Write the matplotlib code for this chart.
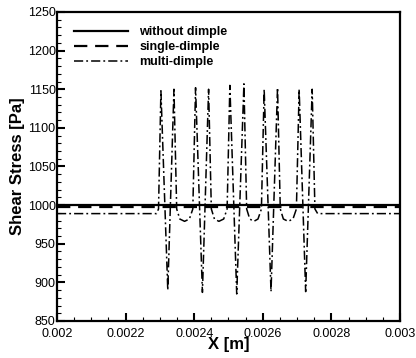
import numpy as np
import matplotlib
matplotlib.use('Agg')
import matplotlib.pyplot as plt
from matplotlib.ticker import MultipleLocator

plt.rcParams['font.family'] = ['Liberation Sans', 'DejaVu Sans']

# flat reference cases
x_flat = [0.002, 0.003]
without_dimple = [1000, 1000]
single_dimple = [998, 998]

# multi-dimple wall shear stress
x_multi = [0.00200, 0.002290, 0.002296, 0.002303, 0.002323, 0.002341, 0.002349,
           0.002358, 0.002372, 0.002386, 0.002396, 0.002404, 0.002424, 0.002442,
           0.002450, 0.002459, 0.002472, 0.002486, 0.002496, 0.002504, 0.002524,
           0.002545, 0.002553, 0.002562, 0.002574, 0.002586, 0.002596, 0.002604,
           0.002624, 0.002643, 0.002651, 0.002660, 0.002674, 0.002688, 0.002698,
           0.002706, 0.002725, 0.002744, 0.002752, 0.002760, 0.00300]
multi_dimple = [989, 989, 995, 1148, 890, 1150, 995,
                982, 979, 982, 995, 1152, 887, 1150,
                995, 982, 979, 982, 995, 1155, 885,
                1157, 995, 982, 979, 982, 995, 1150,
                888, 1152, 995, 982, 979, 982, 995,
                1150, 888, 1150, 995, 989, 989]

x_ticks = [0.002, 0.0022, 0.0024, 0.0026, 0.0028, 0.003]
x_ticklabels = ['0.002', '0.0022', '0.0024', '0.0026', '0.0028', '0.003']


def main():
    fig = plt.figure(figsize=(4.16, 3.58), dpi=100)
    ax = fig.add_axes([0.137, 0.1034, 0.8245, 0.8631])

    ax.plot(x_flat, without_dimple, color='black', lw=1.6, ls='-', label='without dimple')
    ax.plot(x_flat, single_dimple, color='black', lw=1.6, ls=(0, (6, 3.5)), label='single-dimple')
    ax.plot(x_multi, multi_dimple, color='black', lw=1.1, ls=(0, (6, 2, 1.2, 2)), label='multi-dimple')

    ax.set_xlim(0.002, 0.003)
    ax.set_ylim(850, 1250)
    ax.set_xticks(x_ticks)
    ax.set_xticklabels(x_ticklabels)
    ax.xaxis.set_minor_locator(MultipleLocator(0.00005))
    ax.yaxis.set_major_locator(MultipleLocator(50))
    ax.yaxis.set_minor_locator(MultipleLocator(10))

    ax.tick_params(which='both', direction='in', top=False, right=False,
                   labelsize=9)
    ax.tick_params(axis='x', pad=5)
    ax.tick_params(axis='y', pad=1)
    ax.tick_params(which='major', length=6, width=1.5)
    ax.tick_params(which='minor', length=3, width=0.8)
    for s in ax.spines.values():
        s.set_linewidth(1.6)

    ax.set_xlabel('X [m]', fontsize=12, fontweight='bold', labelpad=-2)
    ax.set_ylabel('Shear Stress [Pa]', fontsize=12, fontweight='bold', labelpad=2)

    ax.legend(loc='upper left', bbox_to_anchor=(0.05, 0.955), frameon=False,
              prop={'weight': 'bold', 'size': 9}, handlelength=4.3,
              handletextpad=0.9, labelspacing=0.25, borderpad=0, borderaxespad=0)

    fig.savefig('out.png', dpi=100)


if __name__ == "__main__":
    main()
